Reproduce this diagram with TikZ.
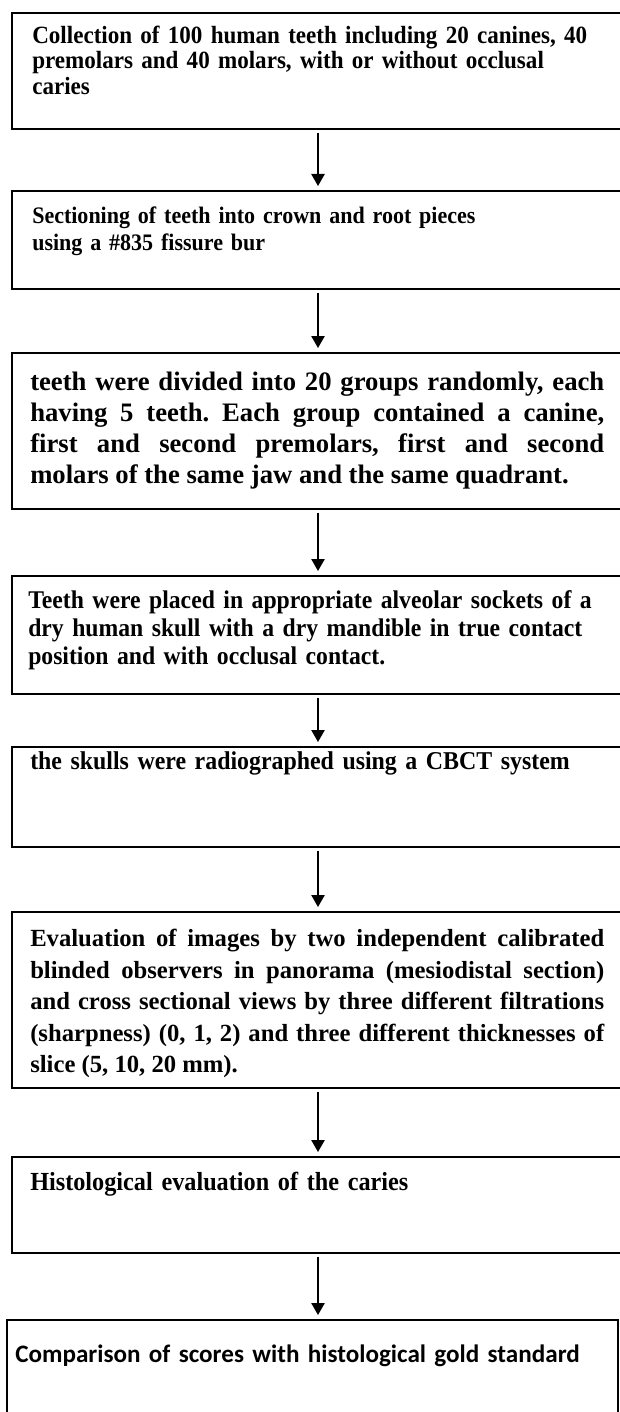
\documentclass[tikz,border=0pt]{standalone}
\usepackage{fontspec}
\setmainfont{Liberation Serif}
\newfontfamily\narrowserif{Liberation Serif}[FakeStretch=0.93]
\newfontfamily\calfont{Carlito}
\usetikzlibrary{arrows.meta}
\hyphenpenalty=10000
\exhyphenpenalty=10000
\frenchspacing
\tikzset{
  stepbox/.style={draw=black,line width=1.5pt,anchor=north west,inner sep=0pt,
    minimum width=459pt},
  steptext/.style={anchor=north west,inner sep=0pt,text width=450pt,align=left},
  steptext-just/.style={steptext,text width=430.5pt,align=justify},
  arrow/.style={-{Triangle[length=9pt,width=10pt]},line width=1.1pt,
    shorten <=2pt,shorten >=3pt},
}
\begin{document}
\begin{tikzpicture}[x=0.75pt,y=-0.75pt]
  \fill[white] (0,0) rectangle (619,1412);
  \useasboundingbox (0,0) rectangle (619,1412);
  % boxes
  \node[stepbox,minimum height=87pt]   (b1) at (11,12)   {};
  \node[stepbox,minimum height=73.5pt] (b2) at (11,190)  {};
  \node[stepbox,minimum height=117pt]  (b3) at (11,352)  {};
  \node[stepbox,minimum height=88.5pt] (b4) at (11,575)  {};
  \node[stepbox,minimum height=75pt]   (b5) at (11,746)  {};
  \node[stepbox,minimum height=132pt]  (b6) at (11,911)  {};
  \node[stepbox,minimum height=72pt]   (b7) at (11,1156) {};
  \node[stepbox,minimum height=82.5pt,minimum width=458.25pt] (b8) at (6,1319) {};
  % texts
  \node[steptext,font={\narrowserif\fontsize{18.6}{18.9}\selectfont\bfseries}] (t1) at (32,26)
    {Collection of 100 human teeth including 20 canines, 40\\
     premolars and 40 molars, with or without occlusal\\
     caries};
  \node[steptext,font={\narrowserif\fontsize{17.75}{20.25}\selectfont\bfseries}] (t2) at (32,207)
    {Sectioning of teeth into crown and root pieces\\
     using a \#835 fissure bur};
  \node[steptext-just,font={\fontsize{20}{23.25}\selectfont\bfseries}] (t3) at (30,372)
    {teeth were divided into 20 groups randomly, each \linebreak
     having 5 teeth. Each group contained a canine, \linebreak
     first and second premolars, first and second \linebreak
     molars of the same jaw and the same quadrant.};
  \node[steptext,font={\narrowserif\fontsize{19.1}{21}\selectfont\bfseries}] (t4) at (28,590)
    {Teeth were placed in appropriate alveolar sockets of a\\
     dry human skull with a dry mandible in true contact\\
     position and with occlusal contact.};
  \node[steptext,font={\narrowserif\fontsize{19.25}{21}\selectfont\bfseries}] (t5) at (30,751)
    {the skulls were radiographed using a CBCT system};
  \node[steptext-just,font={\fontsize{18.5}{23.6}\selectfont\bfseries}] (t6) at (30,929)
    {Evaluation of images by two independent calibrated \linebreak
     blinded observers in panorama (mesiodistal section) \linebreak
     and cross sectional views by three different filtrations \linebreak
     (sharpness) (0, 1, 2) and three different thicknesses of \linebreak
     slice (5, 10, 20 mm).};
  \node[steptext,font={\narrowserif\fontsize{19.55}{21}\selectfont\bfseries}] (t7) at (30,1172)
    {Histological evaluation of the caries};
  \node[steptext,font={\calfont\fontsize{18.85}{22}\selectfont\bfseries}] (t8) at (15,1345)
    {Comparison of scores with histological gold standard};
  % arrows
  \draw[arrow] (b1.south) -- (b2.north);
  \draw[arrow] (b2.south) -- (b3.north);
  \draw[arrow] (b3.south) -- (b4.north);
  \draw[arrow] (b4.south) -- (b5.north);
  \draw[arrow] (b5.south) -- (b6.north);
  \draw[arrow] (b6.south) -- (b7.north);
  \draw[arrow] (b7.south) -- (b7.south |- b8.north);
\end{tikzpicture}
\end{document}
